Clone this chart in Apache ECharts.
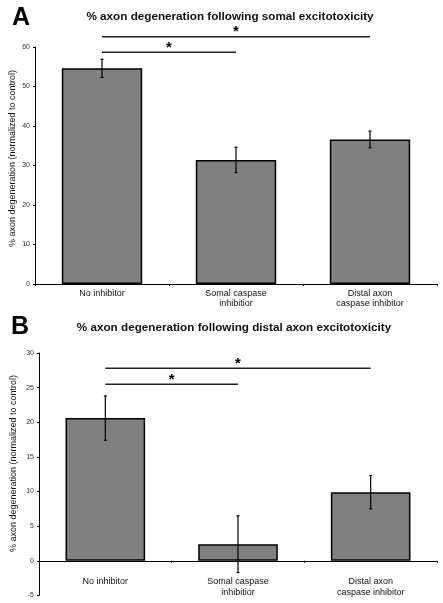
<!DOCTYPE html>
<html><head><meta charset="utf-8">
<script src="https://cdn.jsdelivr.net/npm/echarts@6/dist/echarts.min.js"></script>
<style>html,body{margin:0;padding:0;background:#fff}#c{width:443px;height:603px}</style>
</head><body><div id="c"></div>
<script>
const categories = ['No inhibitor', 'Somal caspase\ninhibitior', 'Distal axon\ncaspase inhibitor'];
const valuesA = [54.6, 31.4, 36.6];
const errorsA = [2.3, 3.2, 2.1];
const valuesB = [20.6, 2.4, 9.9];
const errorsB = [3.2, 4.1, 2.4];
// significance brackets: [fromCategory, toCategory, yValue]
const sigA = [[0, 2, 62.6], [0, 1, 58.7]];
const sigB = [[0, 2, 27.8], [0, 1, 25.5]];
const titleA = '% axon degeneration following somal excitotoxicity';
const titleB = '% axon degeneration following distal axon excitotoxicity';
const yName = '% axon degeneration (normalized to control)';

const FONT = 'Liberation Sans, Arial, sans-serif';

function errSeries(idx, vals, errs) {
  return {
    type: 'custom', xAxisIndex: idx, yAxisIndex: idx, clip: false, z: 5,
    data: vals.map((v, i) => [i, v - errs[i], v + errs[i]]),
    renderItem: function (params, api) {
      const lo = api.coord([api.value(0), api.value(1)]);
      const hi = api.coord([api.value(0), api.value(2)]);
      const cw = 1.5;
      const st = { stroke: '#000', lineWidth: 1.2 };
      return { type: 'group', children: [
        { type: 'line', shape: { x1: lo[0], y1: lo[1], x2: hi[0], y2: hi[1] }, style: st },
        { type: 'line', shape: { x1: lo[0] - cw, y1: lo[1], x2: lo[0] + cw, y2: lo[1] }, style: st },
        { type: 'line', shape: { x1: hi[0] - cw, y1: hi[1], x2: hi[0] + cw, y2: hi[1] }, style: st }
      ]};
    }
  };
}
function sigSeries(idx, sig) {
  return {
    type: 'custom', xAxisIndex: idx, yAxisIndex: idx, clip: false, z: 5,
    data: sig,
    renderItem: function (params, api) {
      const a = api.coord([api.value(0), api.value(2)]);
      const b = api.coord([api.value(1), api.value(2)]);
      return { type: 'group', children: [
        { type: 'line', shape: { x1: a[0], y1: a[1], x2: b[0], y2: b[1] }, style: { stroke: '#222', lineWidth: 1.5 } },
        { type: 'text', style: { text: '*', x: (a[0] + b[0]) / 2, y: a[1] + 3, textAlign: 'center', textVerticalAlign: 'bottom', font: 'bold 15px ' + FONT, fill: '#000' } }
      ]};
    }
  };
}
function barSeries(idx, vals) {
  return {
    type: 'bar', xAxisIndex: idx, yAxisIndex: idx, data: vals, barCategoryGap: '40%',
    itemStyle: { color: '#808080', borderColor: '#000', borderWidth: 1.5 }
  };
}
function xAxis(idx, margin) {
  return {
    type: 'category', gridIndex: idx, data: categories,
    axisLine: { onZero: true, lineStyle: { color: '#000', width: 1 } },
    axisTick: { show: true, length: 2, lineStyle: { color: '#000' } },
    axisLabel: { color: '#111', fontSize: 9, fontFamily: FONT, lineHeight: 10.5, margin: margin, interval: 0 },
    splitLine: { show: false }
  };
}
function yAxis(idx, min, max, interval) {
  return {
    type: 'value', gridIndex: idx, min: min, max: max, interval: interval,
    axisLine: { show: true, lineStyle: { color: '#000', width: 1 } },
    axisTick: { show: true, length: 2, lineStyle: { color: '#000' } },
    axisLabel: { fontSize: 7, color: '#333', fontFamily: FONT, margin: 5 },
    splitLine: { show: false }
  };
}
function yNameText(x, y) {
  return { type: 'text', x: x, y: y, rotation: Math.PI / 2, silent: true,
    style: { text: yName, font: '9px ' + FONT, fill: '#111', align: 'center', verticalAlign: 'middle' } };
}

const chart = echarts.init(document.getElementById('c'), null, { renderer: 'canvas' });
chart.setOption({
  animation: false,
  backgroundColor: '#fff',
  title: [
    { text: 'A', left: 12, top: 6, padding: 0, textStyle: { fontSize: 25, fontWeight: 'bold', fontFamily: FONT, color: '#000' } },
    { text: titleA, left: 230, textAlign: 'center', top: 11, padding: 0, textStyle: { fontSize: 11.7, fontWeight: 'bold', fontFamily: FONT, color: '#111' } },
    { text: 'B', left: 11, top: 315, padding: 0, textStyle: { fontSize: 25, fontWeight: 'bold', fontFamily: FONT, color: '#000' } },
    { text: titleB, left: 234, textAlign: 'center', top: 322, padding: 0, textStyle: { fontSize: 11.7, fontWeight: 'bold', fontFamily: FONT, color: '#111' } }
  ],
  graphic: [yNameText(13, 158.5), yNameText(14, 463.5)],
  grid: [
    { left: 35, right: 6, top: 47, height: 237, outerBoundsMode: 'none', containLabel: false },
    { left: 39, right: 6, top: 353, height: 242.4, outerBoundsMode: 'none', containLabel: false }
  ],
  xAxis: [xAxis(0, 4), xAxis(1, -19)],
  yAxis: [yAxis(0, 0, 60, 10), yAxis(1, -5, 30, 5)],
  series: [
    barSeries(0, valuesA), errSeries(0, valuesA, errorsA), sigSeries(0, sigA),
    barSeries(1, valuesB), errSeries(1, valuesB, errorsB), sigSeries(1, sigB)
  ]
});
</script></body></html>
